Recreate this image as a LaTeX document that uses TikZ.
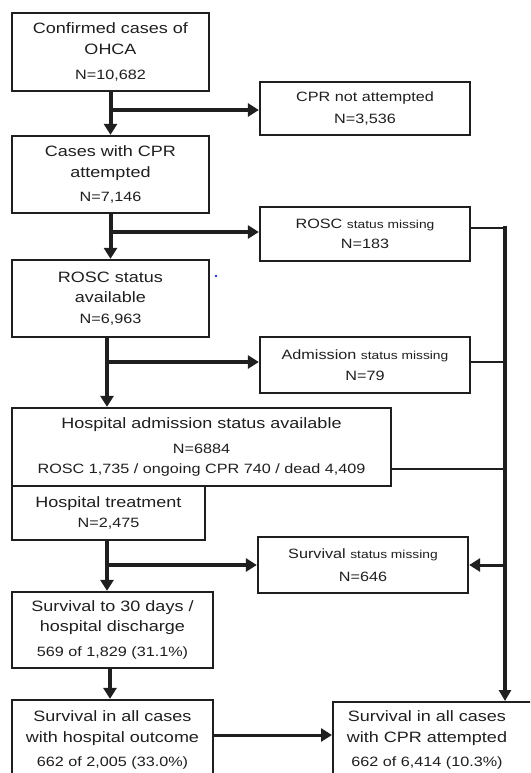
\documentclass[tikz,border=0pt]{standalone}
\usepackage{fontspec}
\setmainfont[FakeStretch=1.2]{Liberation Sans}
\usetikzlibrary{arrows.meta}

% text sizes used in the flow chart
\newcommand\flhead{\fontsize{15}{20.5}\selectfont}
\newcommand\flnum{\fontsize{13.5}{20.5}\selectfont}
\newcommand\flsmall{\fontsize{11.5}{20.5}\selectfont}

\tikzset{
  box/.style={draw=black!88, line width=2.3pt, fill=white, align=center,
              text=black!88, inner sep=0pt, font=\flhead},
  mainbox/.style={box, minimum width=197pt, minimum height=77pt},
  sidebox/.style={box, minimum width=210pt, minimum height=54pt, font=\flnum},
  txt/.style={align=center, text=black!88, inner sep=0pt, font=\flhead},
  flow/.style={draw=black!88, line width=4pt,
               -{Triangle[length=11pt,width=13pt]}},
  bus/.style={draw=black!88, line width=3.5pt},
  feed/.style={draw=black!88, line width=2pt},
}

\begin{document}
\begin{tikzpicture}[x=1pt,y=-1pt]
\useasboundingbox (0,0) rectangle (530,773);
\clip (0,0) rectangle (530,773);

% main column
\node[mainbox, minimum height=78pt] (b1) at (110.5,52)
  {Confirmed cases of\\ OHCA\\[4.5pt] \flnum N=10,682};
\node[mainbox] (b2) at (110.5,174.5)
  {Cases with CPR\\ attempted\\[3.5pt] \flnum N=7,146};
\node[mainbox] (b3) at (110.5,298.5)
  {ROSC status\\ available\\ \flnum N=6,963};
\node[box, minimum width=379pt, minimum height=78pt] (b4) at (201.5,447)
  {Hospital admission status available\\[4.5pt]
   \flnum N=6884\\ \flnum ROSC 1,735 / ongoing CPR 740 / dead 4,409};
\node[box, minimum width=193pt, minimum height=54pt] (b5) at (108.5,513)
  {Hospital treatment\\ \flnum N=2,475};
\node[box, minimum width=201pt, minimum height=76pt] (b6) at (112.5,630)
  {Survival to 30 days /\\ hospital discharge\\[4.5pt]
   \flnum 569 of 1,829 (31.1\%)};
\node[box, minimum width=201pt, minimum height=80pt] (b7) at (112.5,740)
  {Survival in all cases\\ with hospital outcome\\[3.5pt]
   \flnum 662 of 2,005 (33.0\%)};

% final box, running off the right edge
\node[box, anchor=north west, minimum width=214pt, minimum height=90pt]
  (b8) at (332,701) {};
\node[txt] (b8t) at (427,740)
  {Survival in all cases\\ with CPR attempted\\[3.5pt]
   \flnum 662 of 6,414 (10.3\%)};

% exclusion boxes
\node[sidebox, minimum height=53pt] (n1) at (365,108.5)
  {CPR not attempted\\[1pt] N=3,536};
\node[sidebox] (n2) at (365,234)
  {ROSC {\flsmall status missing}\\ N=183};
\node[sidebox, minimum height=56pt] (n3) at (365,365)
  {Admission {\flsmall status missing}\\ N=79};
\node[sidebox, minimum height=56pt] (n4) at (363,565)
  {Survival {\flsmall status missing}\\[2pt] N=646};

% junctions on the main column and the right-hand collector
\coordinate (j1) at (110.5,110);
\coordinate (j2) at (110.5,232);
\coordinate (j3) at (107,362);
\coordinate (j4) at (107,565);
\coordinate (r2) at (505,228);
\coordinate (r3) at (505,362);
\coordinate (r4) at (505,469);
\coordinate (r5) at (505,565);
\coordinate (lvl) at (0,735);

% main column arrows
\draw[flow] (b1) -- (b2);
\draw[flow] (b2) -- (b3);
\draw[flow] (j3 |- b3.south) -- (j3 |- b4.north);
\draw[flow] (j4 |- b5.south) -- (j4 |- b6.north);
\draw[flow] ([xshift=-2.5pt]b6.south) -- ([xshift=-2.5pt]b6.south |- b7.north);
\draw[flow, line width=3pt] (b7.east |- lvl) -- (b8.west |- lvl);

% branches to the exclusion boxes
\draw[flow] (j1) -- (j1 -| n1.west);
\draw[flow] (j2) -- (j2 -| n2.west);
\draw[flow] (j3) -- (j3 -| n3.west);
\draw[flow] (j4) -- (j4 -| n4.west);

% collector on the right
\draw[feed] (n2.east |- r2) -- (r2);
\draw[feed] (n3.east |- r3) -- (r3);
\draw[feed] (b4.east |- r4) -- (r4);
\draw[bus, -{Triangle[length=11pt,width=12pt]}] ([yshift=1.75pt]r2) -- (r2 |- b8.north);
\draw[flow, line width=3pt] (r5) -- (r5 -| n4.east);

% stray dot
\fill[blue!85] (216,276) circle (1.3pt);
\end{tikzpicture}
\end{document}
